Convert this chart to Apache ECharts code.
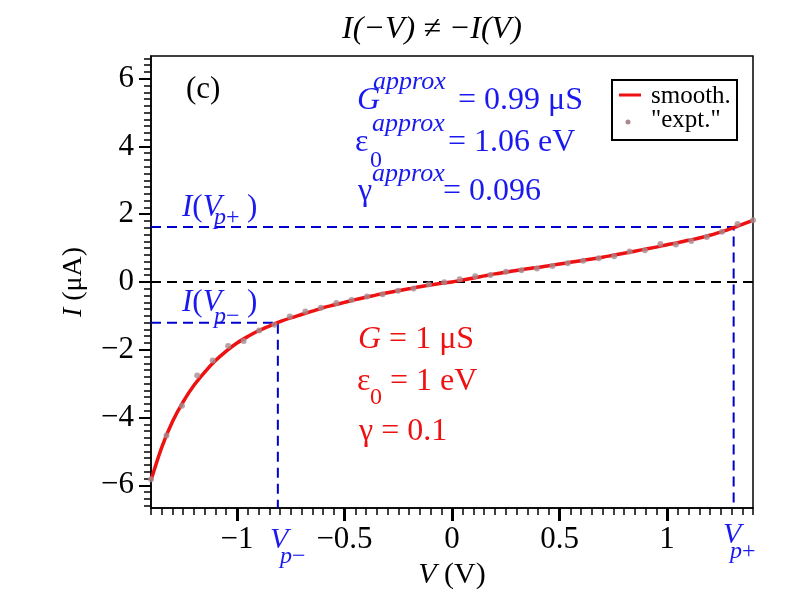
<!DOCTYPE html>
<html>
<head>
<meta charset="utf-8">
<script src="https://cdn.jsdelivr.net/npm/echarts@6/dist/echarts.min.js"></script>
<style>
html, body { margin: 0; padding: 0; background: #fff; }
#chart { width: 792px; height: 612px; }
</style>
</head>
<body>
<div id="chart"></div>
<script>
// smooth curve, every 0.05 V
var vSmooth = [-1.40, -1.35, -1.30, -1.25, -1.20, -1.15, -1.10, -1.05, -1.00, -0.95,
    -0.90, -0.85, -0.80, -0.75, -0.70, -0.65, -0.60, -0.55, -0.50, -0.45,
    -0.40, -0.35, -0.30, -0.25, -0.20, -0.15, -0.10, -0.05, 0.00, 0.05,
    0.10, 0.15, 0.20, 0.25, 0.30, 0.35, 0.40, 0.45, 0.50, 0.55,
    0.60, 0.65, 0.70, 0.75, 0.80, 0.85, 0.90, 0.95, 1.00, 1.05,
    1.10, 1.15, 1.20, 1.25, 1.30, 1.35, 1.40];
var iSmooth = [-5.85, -4.88, -4.12, -3.53, -3.05, -2.66, -2.32, -2.04, -1.80, -1.61,
    -1.44, -1.30, -1.17, -1.06, -0.96, -0.86, -0.76, -0.68, -0.60, -0.52,
    -0.45, -0.38, -0.32, -0.26, -0.20, -0.14, -0.09, -0.04, 0.00, 0.06,
    0.12, 0.18, 0.24, 0.29, 0.34, 0.39, 0.43, 0.48, 0.53, 0.58,
    0.63, 0.68, 0.73, 0.79, 0.85, 0.91, 0.97, 1.03, 1.10, 1.16,
    1.23, 1.30, 1.38, 1.47, 1.58, 1.70, 1.82];

// "expt." points
var vExpt = [-1.400, -1.328, -1.256, -1.185, -1.113, -1.041, -0.969, -0.897, -0.826, -0.754,
    -0.682, -0.610, -0.538, -0.467, -0.395, -0.323, -0.251, -0.179, -0.108, -0.036,
    0.036, 0.108, 0.179, 0.251, 0.323, 0.395, 0.467, 0.538, 0.610, 0.682,
    0.754, 0.826, 0.897, 0.969, 1.041, 1.113, 1.185, 1.256, 1.328, 1.400];
var iExpt = [-5.82, -4.53, -3.65, -2.76, -2.32, -1.89, -1.74, -1.43, -1.26, -1.02,
    -0.87, -0.76, -0.62, -0.53, -0.43, -0.36, -0.26, -0.19, -0.07, -0.01,
    0.08, 0.17, 0.21, 0.30, 0.35, 0.40, 0.47, 0.55, 0.63, 0.70,
    0.76, 0.90, 0.94, 1.12, 1.11, 1.21, 1.33, 1.48, 1.71, 1.82];

var xMajorTicks = [-1, -0.5, 0, 0.5, 1];
var yMajorTicks = [-6, -4, -2, 0, 2, 4, 6];

// peak voltages and currents
var vpMinus = -0.81, vpPlus = 1.31;
var iVpMinus = -1.2, iVpPlus = 1.62;

var xMin = -1.4, xMax = 1.4, yMin = -6.67, yMax = 6.67;
var FONT = 'Liberation Serif';
var BLUE = '#1a1aee', RED = '#ee1111', DASHBLUE = '#0000cc', DOT = '#a98a8e';

var yMinorTicks = [];
for (var k = -33; k <= 33; k++) {
    yMinorTicks.push(Math.round(k * 2) / 10);
}

function pairs(xs, ys) {
    var out = [];
    for (var i = 0; i < xs.length; i++) {
        out.push([xs[i], ys[i]]);
    }
    return out;
}

function minus(v) {
    return String(v).replace('-', '\u2212');
}

function txt(x, y, s, size, color, italic) {
    return {
        type: 'text',
        x: x,
        y: y,
        style: {
            text: s,
            fill: color,
            fontSize: size,
            fontFamily: FONT,
            fontStyle: italic ? 'italic' : 'normal',
            align: 'left',
            verticalAlign: 'middle',
            rich: { i: { fontStyle: 'italic', fontSize: size, fontFamily: FONT, fill: color } }
        },
        z: 100
    };
}

var gridBox = { left: 151, right: 39, top: 56, bottom: 104 };

var chart = echarts.init(document.getElementById('chart'));

var option = {
    backgroundColor: '#fff',
    animation: false,
    title: {
        text: 'I(\u2212V) \u2260 \u2212I(V)',
        left: 337,
        top: 9,
        textStyle: { fontFamily: FONT, fontStyle: 'italic', fontWeight: 'normal', fontSize: 32, color: '#000' }
    },
    grid: [
        Object.assign({ show: true, borderColor: '#000', borderWidth: 1.5 }, gridBox),
        Object.assign({ show: false }, gridBox)
    ],
    xAxis: [{
        type: 'value', gridIndex: 0, min: xMin, max: xMax,
        axisLine: { show: true, onZero: false, lineStyle: { color: '#000', width: 1.5 } },
        axisTick: { show: true, inside: false, length: 13, customValues: xMajorTicks, lineStyle: { color: '#000', width: 3 } },
        axisLabel: { show: true, customValues: xMajorTicks, formatter: minus, margin: 16, color: '#000', fontSize: 31, fontFamily: FONT },
        splitLine: { show: false },
        name: '{i|V} (V)',
        nameLocation: 'middle',
        nameGap: 49,
        nameTextStyle: {
            color: '#000', fontSize: 30, fontFamily: FONT,
            rich: { i: { fontStyle: 'italic', fontSize: 30, fontFamily: FONT, color: '#000' } }
        }
    }, {
        type: 'value', gridIndex: 1, min: xMin, max: xMax, interval: 0.05,
        axisLine: { show: false, onZero: false },
        axisTick: { show: true, inside: false, length: 7, lineStyle: { color: '#000', width: 1.5 } },
        axisLabel: { show: false },
        splitLine: { show: false }
    }],
    yAxis: [{
        type: 'value', gridIndex: 0, min: yMin, max: yMax,
        axisLine: { show: true, onZero: false, lineStyle: { color: '#000', width: 1.5 } },
        axisTick: { show: true, inside: false, length: 12, customValues: yMajorTicks, lineStyle: { color: '#000', width: 2 } },
        axisLabel: { show: true, customValues: yMajorTicks, formatter: minus, margin: 17, color: '#000', fontSize: 31, fontFamily: FONT },
        splitLine: { show: false },
        name: '{i|I} (\u03bcA)',
        nameLocation: 'middle',
        nameGap: 63,
        nameRotate: 90,
        nameTextStyle: {
            color: '#000', fontSize: 28, fontFamily: FONT,
            rich: { i: { fontStyle: 'italic', fontSize: 28, fontFamily: FONT, color: '#000' } }
        }
    }, {
        type: 'value', gridIndex: 1, min: yMin, max: yMax,
        axisLine: { show: false, onZero: false },
        axisTick: { show: true, inside: false, length: 7, customValues: yMinorTicks, lineStyle: { color: '#000', width: 1.5 } },
        axisLabel: { show: false },
        splitLine: { show: false }
    }],
    series: [{
        name: 'zero',
        type: 'line',
        xAxisIndex: 0, yAxisIndex: 0,
        data: [[xMin, 0], [xMax, 0]],
        symbol: 'none', silent: true, z: 1,
        lineStyle: { color: '#000', width: 2, type: [10, 6] }
    }, {
        name: 'guidePlus',
        type: 'line',
        xAxisIndex: 0, yAxisIndex: 0,
        data: [[xMin, iVpPlus], [vpPlus, iVpPlus], [vpPlus, yMin]],
        symbol: 'none', silent: true, z: 1,
        lineStyle: { color: DASHBLUE, width: 2, type: [10, 6] }
    }, {
        name: 'guideMinus',
        type: 'line',
        xAxisIndex: 0, yAxisIndex: 0,
        data: [[xMin, iVpMinus], [vpMinus, iVpMinus], [vpMinus, yMin]],
        symbol: 'none', silent: true, z: 1,
        lineStyle: { color: DASHBLUE, width: 2, type: [10, 6] }
    }, {
        name: 'smooth.',
        type: 'line',
        xAxisIndex: 0, yAxisIndex: 0,
        data: pairs(vSmooth, iSmooth),
        symbol: 'none', smooth: 0.3, z: 3,
        lineStyle: { color: RED, width: 3.5 }
    }, {
        name: '"expt."',
        type: 'scatter',
        xAxisIndex: 0, yAxisIndex: 0,
        data: pairs(vExpt, iExpt),
        symbol: 'circle', symbolSize: 6, z: 4,
        itemStyle: { color: DOT }
    }],
    graphic: [
        // legend box
        { type: 'rect', shape: { x: 612, y: 80, width: 125, height: 60 }, style: { fill: '#fff', stroke: '#000', lineWidth: 2 }, z: 90 },
        { type: 'line', shape: { x1: 619, y1: 95, x2: 641, y2: 95 }, style: { stroke: RED, lineWidth: 3 }, z: 100 },
        { type: 'circle', shape: { cx: 628, cy: 122, r: 2.5 }, style: { fill: DOT }, z: 100 },
        txt(651, 96, 'smooth.', 25, '#000', false),
        txt(651, 120, '"expt."', 25, '#000', false),

        txt(186, 90, '(c)', 31, '#000', false),

        // fitted parameters
        txt(357, 101, 'G', 32, BLUE, true),
        txt(373, 82, 'approx', 26, BLUE, true),
        txt(458, 101, '= 0.99 \u03bcS', 32, BLUE, false),
        txt(355, 143, '\u03b5', 32, BLUE, false),
        txt(370, 161, '0', 24, BLUE, false),
        txt(372, 124, 'approx', 26, BLUE, true),
        txt(448, 143, '= 1.06 eV', 32, BLUE, false),
        txt(358, 192, '\u03b3', 32, BLUE, false),
        txt(372, 174, 'approx', 26, BLUE, true),
        txt(443, 192, '= 0.096', 32, BLUE, false),

        // true parameters
        txt(358, 340, '{i|G} = 1 \u03bcS', 32, RED, false),
        txt(357, 382, '\u03b5', 32, RED, false),
        txt(370, 398, '0', 24, RED, false),
        txt(390, 382, '= 1 eV', 32, RED, false),
        txt(359, 432, '\u03b3 = 0.1', 32, RED, false),

        // peak labels
        txt(182, 208, '{i|I}({i|V}', 31, BLUE, false),
        txt(214, 218, '{i|p}+', 24, BLUE, false),
        txt(247, 208, ')', 31, BLUE, false),
        txt(182, 303, '{i|I}({i|V}', 31, BLUE, false),
        txt(214, 317, '{i|p}\u2212', 24, BLUE, false),
        txt(247, 303, ')', 31, BLUE, false),
        txt(270, 540, 'V', 30, BLUE, true),
        txt(280, 557, '{i|p}\u2212', 24, BLUE, false),
        txt(723, 535, 'V', 30, BLUE, true),
        txt(730, 552, '{i|p}+', 24, BLUE, false)
    ]
};

chart.setOption(option);
</script>
</body>
</html>
